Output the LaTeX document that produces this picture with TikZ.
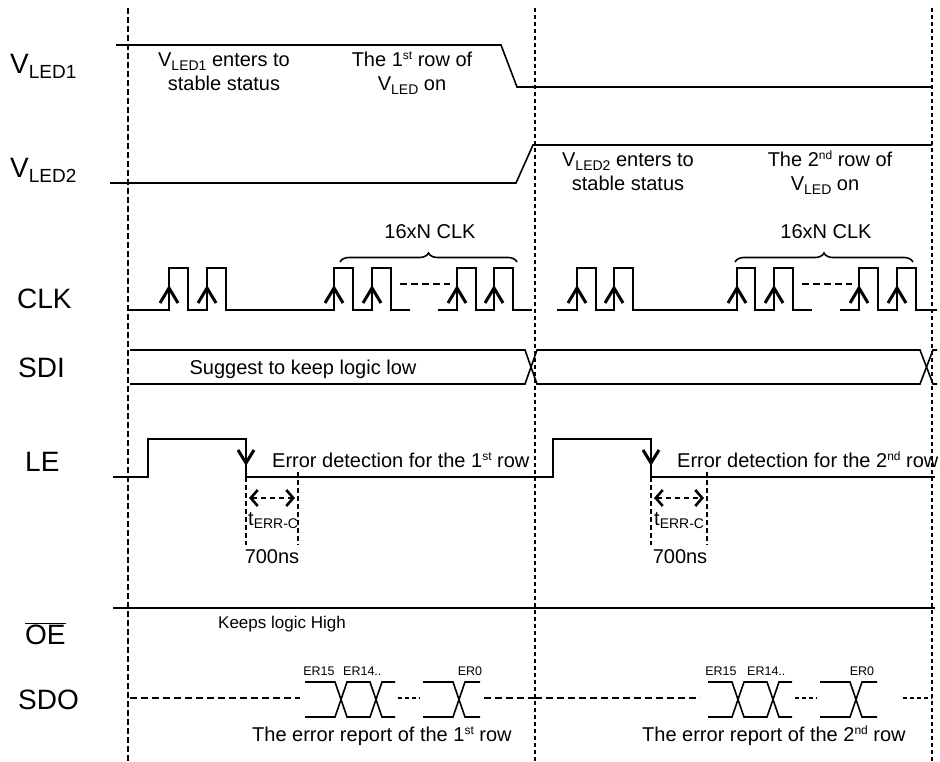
\documentclass[tikz,border=0pt]{standalone}
\usepackage{fontspec}
\setmainfont{Liberation Sans}
\usetikzlibrary{decorations.pathreplacing,arrows.meta}
\newcommand\myfs[1]{\fontsize{#1}{#1}\selectfont}
\newcommand\bigsub[1]{\raisebox{-4.5pt}{\myfs{19}#1}}
\newcommand\smsub[1]{\raisebox{-3.5pt}{\myfs{14}#1}}
\newcommand\smsup[1]{\raisebox{7pt}{\myfs{12}#1}}
\begin{document}
\begin{tikzpicture}[x=1pt,y=-1pt,
  sig/.style={line width=1.6pt},
  gridA/.style={line width=2.4pt,dash pattern=on 6pt off 3pt},
  gridB/.style={line width=2.8pt,dash pattern=on 4pt off 3pt},
  gridC/.style={line width=2.4pt,dash pattern=on 5pt off 3pt},
  chev/.style={line width=3pt},
  dashs/.style={line width=1.6pt,dash pattern=on 7pt off 4pt},
  dots/.style={line width=1.6pt,dash pattern=on 4pt off 3pt},
  terr/.style={line width=2.6pt,dash pattern=on 5pt off 4pt,{Straight Barb[length=7pt,width=16pt]}-{Straight Barb[length=7pt,width=16pt]}},
  lab/.style={font=\myfs{28},inner sep=0pt},
  ann/.style={font=\myfs{20},inner sep=0pt},
  small/.style={font=\myfs{17},inner sep=0pt},
  tiny/.style={font=\myfs{12.5},inner sep=0pt}]
\useasboundingbox (0,0) rectangle (940,762);

% vertical guide lines
\draw[gridA] (128,8) -- (128,762);
\draw[gridB] (535,8) -- (535,762);
\draw[gridB] (932,8) -- (932,762);

% signal labels
\node[lab,anchor=base west] (lv1) at (10,74) {V\bigsub{LED1}};
\node[lab,anchor=base west] (lv2) at (10,178) {V\bigsub{LED2}};
\node[lab,anchor=base west] (lclk) at (17,308) {CLK};
\node[lab,anchor=base west] (lsdi) at (18,377) {SDI};
\node[lab,anchor=base west] (lle) at (25,471) {LE};
\node[lab,anchor=base west] (loe) at (25,644) {$\overline{\hbox{OE}}$};
\node[lab,anchor=base west] (lsdo) at (18,709) {SDO};

% VLED1 / VLED2
\draw[sig] (116,45) -- (501,45) -- (517,87) -- (932,87);
\draw[sig] (110,183) -- (516,183) -- (533,145) -- (932,145);
\node[ann,anchor=base] (t1a) at (224,67) {V\smsub{LED1} enters to};
\node[ann,anchor=base] (t1b) at (224,91) {stable status};
\node[ann,anchor=base] (t2a) at (412,67) {The 1\smsup{st} row of};
\node[ann,anchor=base] (t2b) at (412,91) {V\smsub{LED} on};
\node[ann,anchor=base] (t3a) at (628,167) {V\smsub{LED2} enters to};
\node[ann,anchor=base] (t3b) at (628,191) {stable status};
\node[ann,anchor=base] (t4a) at (830,167) {The 2\smsup{nd} row of};
\node[ann,anchor=base] (t4b) at (825,191) {V\smsub{LED} on};

% CLK
\draw[sig] (128,310) foreach \a/\b in {169/188,207/226,334/353,372/391} { -- (\a,310) -- (\a,268) -- (\b,268) -- (\b,310)} -- (410,310);
\draw[sig] (438,310) foreach \a/\b in {457/476,494/513} { -- (\a,310) -- (\a,268) -- (\b,268) -- (\b,310)} -- (532,310);
\draw[sig] (557,310) foreach \a/\b in {577/596,614/633,737/755,774/793} { -- (\a,310) -- (\a,268) -- (\b,268) -- (\b,310)} -- (812,310);
\draw[sig] (840,310) foreach \a/\b in {859/878,897/916} { -- (\a,310) -- (\a,268) -- (\b,268) -- (\b,310)} -- (937,310);
\foreach \a in {169,207,334,372,457,494,577,614,737,774,859,897}
  \draw[chev] (\a-9,303) -- (\a,288) -- (\a+9,303);
\draw[dashs] (400,284) -- (450,284);
\draw[dashs] (802,284) -- (852,284);
\draw[sig,decorate,decoration={brace,amplitude=9pt}] (340,262) -- (517,262);
\draw[sig,decorate,decoration={brace,amplitude=9pt}] (735,262) -- (913,262);
\node[ann,anchor=base] (n1) at (430,239) {16xN CLK};
\node[ann,anchor=base] (n2) at (826,239) {16xN CLK};

% SDI
\draw[sig] (130,350) -- (525,350) -- (537,384) -- (920,384) -- (933,350) -- (937,350);
\draw[sig] (130,384) -- (525,384) -- (537,350) -- (920,350) -- (933,384) -- (937,384);
\node[ann,anchor=base] (sdit) at (303,374) {Suggest to keep logic low};

% LE
\draw[sig] (113,477) -- (148,477) -- (148,439) -- (246,439) -- (246,477) -- (553,477) -- (553,439) -- (651,439) -- (651,477) -- (935,477);
\draw[chev] (238,450) -- (246,463) -- (254,450);
\draw[chev] (643,450) -- (651,463) -- (659,450);
\node[ann,anchor=base west] (le1) at (272,467) {Error detection for the 1\smsup{st} row};
\node[ann,anchor=base west] (le2) at (677,467) {Error detection for the 2\smsup{nd} row};

% tERR-C
\draw[gridC] (246,477) -- (246,545);
\draw[gridC] (298,472) -- (298,545);
\draw[terr] (249,498) -- (295,498);
\node[ann,anchor=base west] (te1) at (248,525) {t\smsub{ERR-C}};
\node[ann,anchor=base] (ns1) at (272,563) {700ns};
\draw[gridC] (651,477) -- (651,545);
\draw[gridC] (707,472) -- (707,545);
\draw[terr] (654,498) -- (704,498);
\node[ann,anchor=base west] (te2) at (654,525) {t\smsub{ERR-C}};
\node[ann,anchor=base] (ns2) at (680,563) {700ns};

% OE
\draw[sig] (113,608) -- (935,608);
\node[small,anchor=base west] (keep) at (218,628) {Keeps logic High};

% SDO left
\draw[dashs] (130,698) -- (300,698);
\draw[sig] (305,682) -- (335,682) -- (347,717) -- (370,717) -- (382,682) -- (395,682);
\draw[sig] (305,717) -- (335,717) -- (347,682) -- (370,682) -- (382,717) -- (395,717);
\draw[dots] (398,698) -- (420,698);
\draw[sig] (423,682) -- (453,682) -- (465,717) -- (480,717);
\draw[sig] (423,717) -- (453,717) -- (465,682) -- (480,682);
\draw[dashs] (484,698) -- (535,698);
\node[tiny,anchor=base] (e15a) at (319,675) {ER15};
\node[tiny,anchor=base west] (e14a) at (343,675) {ER14..};
\node[tiny,anchor=base] (e0a) at (470,675) {ER0};
\node[ann,anchor=base west] (rep1) at (252,741) {The error report of the 1\smsup{st} row};

% SDO right
\draw[dashs] (535,698) -- (700,698);
\draw[sig] (708,682) -- (732,682) -- (744,717) -- (767,717) -- (779,682) -- (792,682);
\draw[sig] (708,717) -- (732,717) -- (744,682) -- (767,682) -- (779,717) -- (792,717);
\draw[dots] (795,698) -- (817,698);
\draw[sig] (820,682) -- (850,682) -- (862,717) -- (877,717);
\draw[sig] (820,717) -- (850,717) -- (862,682) -- (877,682);
\draw[dots] (903,698) -- (932,698);
\node[tiny,anchor=base] (e15b) at (721,675) {ER15};
\node[tiny,anchor=base west] (e14b) at (747,675) {ER14..};
\node[tiny,anchor=base] (e0b) at (862,675) {ER0};
\node[ann,anchor=base west] (rep2) at (642,741) {The error report of the 2\smsup{nd} row};
\end{tikzpicture}
\end{document}
